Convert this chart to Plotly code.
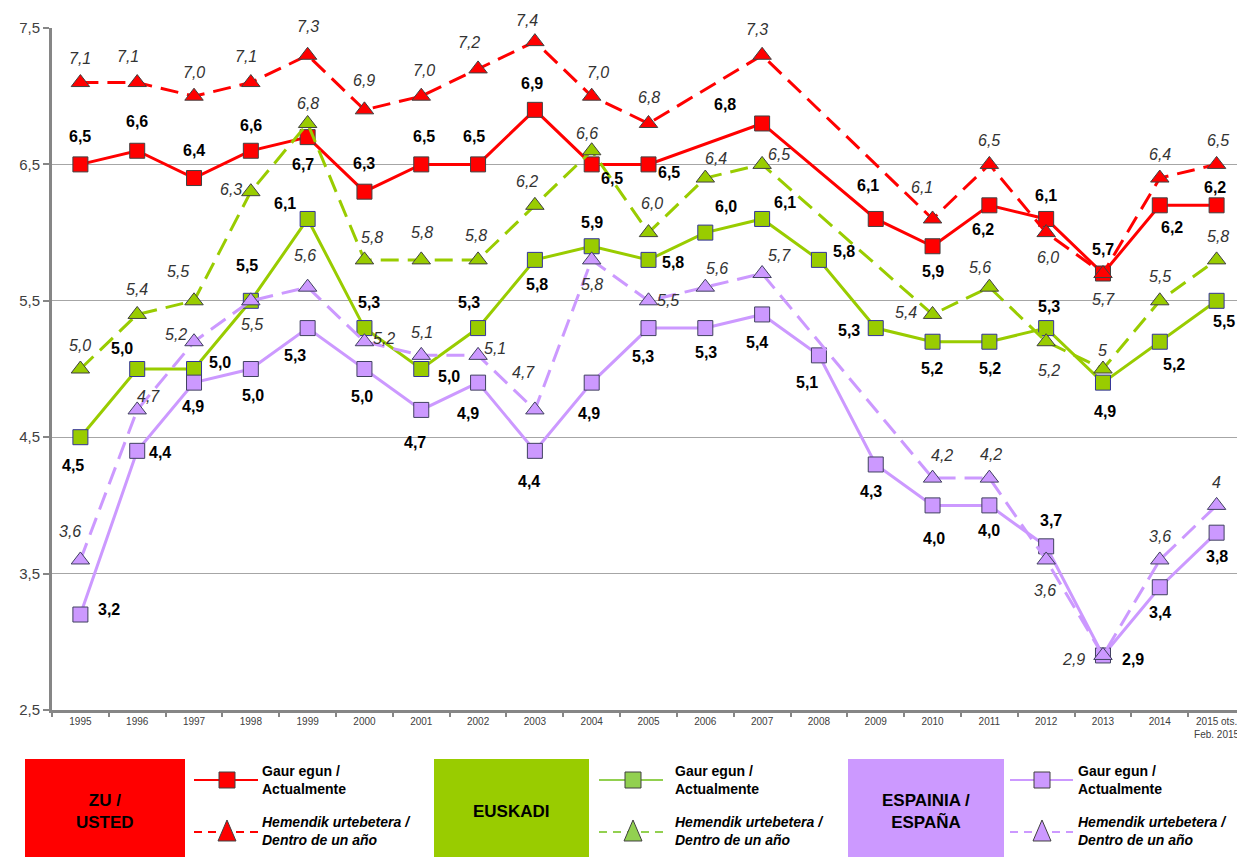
import plotly.graph_objects as go

# categories (x axis)
years = ['1995', '1996', '1997', '1998', '1999', '2000', '2001', '2002', '2003', '2004',
         '2005', '2006', '2007', '2008', '2009', '2010', '2011', '2012', '2013', '2014',
         '2015 ots.<br>Feb. 2015']

# ZU / USTED
zu_now = [6.5, 6.6, 6.4, 6.6, 6.7, 6.3, 6.5, 6.5, 6.9, 6.5, 6.5, None, 6.8, None, 6.1, 5.9, 6.2, 6.1, 5.7, 6.2, 6.2]
zu_next = [7.1, 7.1, 7.0, 7.1, 7.3, 6.9, 7.0, 7.2, 7.4, 7.0, 6.8, None, 7.3, None, None, 6.1, 6.5, 6.0, 5.7, 6.4, 6.5]
# EUSKADI
eus_now = [4.5, 5.0, 5.0, 5.5, 6.1, 5.3, 5.0, 5.3, 5.8, 5.9, 5.8, 6.0, 6.1, 5.8, 5.3, 5.2, 5.2, 5.3, 4.9, 5.2, 5.5]
eus_next = [5.0, 5.4, 5.5, 6.3, 6.8, 5.8, 5.8, 5.8, 6.2, 6.6, 6.0, 6.4, 6.5, None, None, 5.4, 5.6, 5.2, 5, 5.5, 5.8]
# ESPAINIA / ESPAÑA
esp_now = [3.2, 4.4, 4.9, 5.0, 5.3, 5.0, 4.7, 4.9, 4.4, 4.9, 5.3, 5.3, 5.4, 5.1, 4.3, 4.0, 4.0, 3.7, 2.9, 3.4, 3.8]
esp_next = [3.6, 4.7, 5.2, 5.5, 5.6, 5.2, 5.1, 5.1, 4.7, 5.8, 5.5, 5.6, 5.7, None, None, 4.2, 4.2, 3.6, 2.9, 3.6, 4]

# label offsets in pixels (dx, dy down)
zu_now_off = [(0, -28), (0, -29), (0, -28), (0, -25), (-5, 27), (0, -28), (3, -28), (-4, -28), (-3, -26), (20, 14),
              (20, 8), None, (-37, -19), None, (-8, -33), (0, 25), (-6, 24), (0, -23), (0, -24), (12, 22), (-2, -18)]
zu_next_off = [(0, -24), (-9, -26), (0, -24), (-5, -26), (0, -29), (0, -29), (3, -26), (-9, -26), (-8, -21), (6, -24),
               (0, -26), None, (-5, -26), None, None, (-11, -31), (0, -24), (2, 25), (1, 26), (0, -24), (1, -24)]
eus_now_off = [(-7, 28), (-15, -21), (26, -7), (-4, -35), (-23, -15), (5, -26), (28, 7), (-9, -26), (2, 25), (0, -24),
               (24, 3), (21, -26), (23, -16), (25, -8), (-27, 2), (-1, 27), (1, 27), (3, -22), (2, 29), (14, 23), (7, 21)]
eus_next_off = [(0, -24), (0, -25), (-16, -29), (-20, -2), (0, -20), (8, -22), (1, -27), (-2, -24), (-8, -24), (-5, -17),
                (3, -29), (11, -20), (17, -10), None, None, (-27, -2), (-9, -20), (3, 29), (0, -19), (0, -24), (1, -23)]
esp_now_off = [(29, -5), (23, 2), (-1, 24), (2, 26), (-13, 27), (-2, 27), (-6, 33), (-10, 31), (-6, 31), (-3, 31),
               (-6, 28), (1, 24), (-5, 28), (-12, 27), (-5, 27), (1, 33), (0, 25), (5, -26), (30, 4), (0, 25), (0, 24)]
esp_next_off = [(-10, -28), (11, -13), (-18, -7), (1, 24), (-3, -32), (20, -3), (1, -23), (17, -7), (-11, -37), (0, 25),
                (19, 0), (12, -19), (17, -18), None, None, (9, -23), (2, -24), (-1, 31), (-29, 4), (0, -23), (0, -23)]

RED = '#FF0000'
GREEN = '#99CC00'
PURPLE = '#CC99FF'
FONT = 'Liberation Sans, Arial, sans-serif'

series = [
    (zu_now, zu_now_off, RED, 'solid', 'square', '#404040'),
    (zu_next, zu_next_off, RED, '18px,9px', 'triangle-up', '#404040'),
    (eus_now, eus_now_off, GREEN, 'solid', 'square', '#333399'),
    (eus_next, eus_next_off, GREEN, '18px,9px', 'triangle-up', '#404040'),
    (esp_now, esp_now_off, PURPLE, 'solid', 'square', '#404060'),
    (esp_next, esp_next_off, PURPLE, '18px,9px', 'triangle-up', '#404060'),
]

fig = go.Figure()
annotations = []
for vals, offs, col, dash, sym, edge in series:
    fig.add_trace(go.Scatter(
        x=years, y=vals, mode='lines+markers', connectgaps=True,
        line=dict(color=col, width=3, dash=dash),
        marker=dict(symbol=sym, size=15 if sym == 'square' else 16, color=col, line=dict(color=edge, width=1)),
        showlegend=False, cliponaxis=False))
    bold = dash == 'solid'
    for i, (v, o) in enumerate(zip(vals, offs)):
        if v is None:
            continue
        t = str(v).replace('.', ',')
        # category index as x (numeric-looking category names are read as indices)
        annotations.append(dict(
            x=i, y=v, xref='x', yref='y', text=('<b>%s</b>' % t) if bold else ('<i>%s</i>' % t),
            showarrow=False, xshift=o[0], yshift=-o[1], xanchor='center', yanchor='middle',
            font=dict(family=FONT, size=16, color='#000000' if bold else '#333333')))


# pixel (reference picture) -> paper helpers for the hand-made legend under the plot
def px(x):
    return (x - 52) / 1193


def py(y):
    return (710 - y) / 682


shapes = []
groups = [
    (25, 185, RED, RED, 'ZU /<br>USTED', 194, 258, 227, 260),
    (434, 589, GREEN, '#92D050', 'EUSKADI', 599, 663, 633, 673),
    (848, 1004, PURPLE, PURPLE, 'ESPAINIA /<br>ESPAÑA', 1010, 1073, 1042, 1076),
]
for bx0, bx1, bcol, lcol, name, la, lb, lc, lt in groups:
    shapes.append(dict(type='rect', xref='paper', yref='paper', x0=px(bx0), x1=px(bx1), y0=py(870), y1=py(759),
                       fillcolor=bcol, line=dict(width=0), layer='above'))
    annotations.append(dict(xref='paper', yref='paper', x=px((bx0 + bx1) / 2), y=py(811), text='<b>%s</b>' % name,
                            showarrow=False, xanchor='center', yanchor='middle',
                            font=dict(family=FONT, size=17, color='#000000')))
    # solid line + square
    shapes.append(dict(type='line', xref='paper', yref='paper', x0=px(la), x1=px(lb), y0=py(780), y1=py(780),
                       line=dict(color=lcol, width=2)))
    shapes.append(dict(type='rect', xref='paper', yref='paper', x0=px(lc - 8), x1=px(lc + 8), y0=py(788), y1=py(772),
                       fillcolor=lcol, line=dict(color='#404040', width=1)))
    # dashed line + triangle
    shapes.append(dict(type='line', xref='paper', yref='paper', x0=px(la), x1=px(lb), y0=py(832), y1=py(832),
                       line=dict(color=lcol, width=2, dash='8px,6px')))
    shapes.append(dict(type='path', xref='paper', yref='paper',
                       path='M %f,%f L %f,%f L %f,%f Z' % (px(lc - 9), py(841), px(lc + 9), py(841), px(lc), py(820)),
                       fillcolor=lcol, line=dict(color='#404040', width=1)))
    annotations.append(dict(xref='paper', yref='paper', x=px(lt), y=py(780), xanchor='left', yanchor='middle',
                            text='<b>Gaur egun /<br>Actualmente</b>', showarrow=False, align='left',
                            font=dict(family=FONT, size=14, color='#000000')))
    annotations.append(dict(xref='paper', yref='paper', x=px(lt), y=py(831), xanchor='left', yanchor='middle',
                            text='<b><i>Hemendik urtebetera /<br>Dentro de un año</i></b>', showarrow=False,
                            align='left', font=dict(family=FONT, size=14, color='#000000')))

# the page body has an 8px margin, so the figure is 8px smaller and everything shifted by 8px
fig.update_layout(
    width=1237, height=849,
    margin=dict(l=44, r=0, t=20, b=147),
    paper_bgcolor='white', plot_bgcolor='white',
    separators=', ',
    font=dict(family=FONT, color='#404040'),
    shapes=shapes, annotations=annotations,
    xaxis=dict(type='category', categoryorder='array', categoryarray=years, range=[-0.5, 20.5],
               showline=True, linecolor='#868686', linewidth=3, ticks='outside', tickson='boundaries',
               ticklen=4, tickcolor='#868686', tickwidth=2, showgrid=False,
               tickfont=dict(size=10, color='#404040')),
    yaxis=dict(range=[2.5, 7.5], tick0=2.5, dtick=1, tickformat='.1f',
               showline=True, linecolor='#868686', linewidth=3, ticks='outside', ticklen=6,
               tickcolor='#868686', tickwidth=2, showgrid=True, gridcolor='#A6A6A6', gridwidth=1,
               zeroline=False, tickfont=dict(size=15, color='#404040')),
)

fig.write_html('out.html')
